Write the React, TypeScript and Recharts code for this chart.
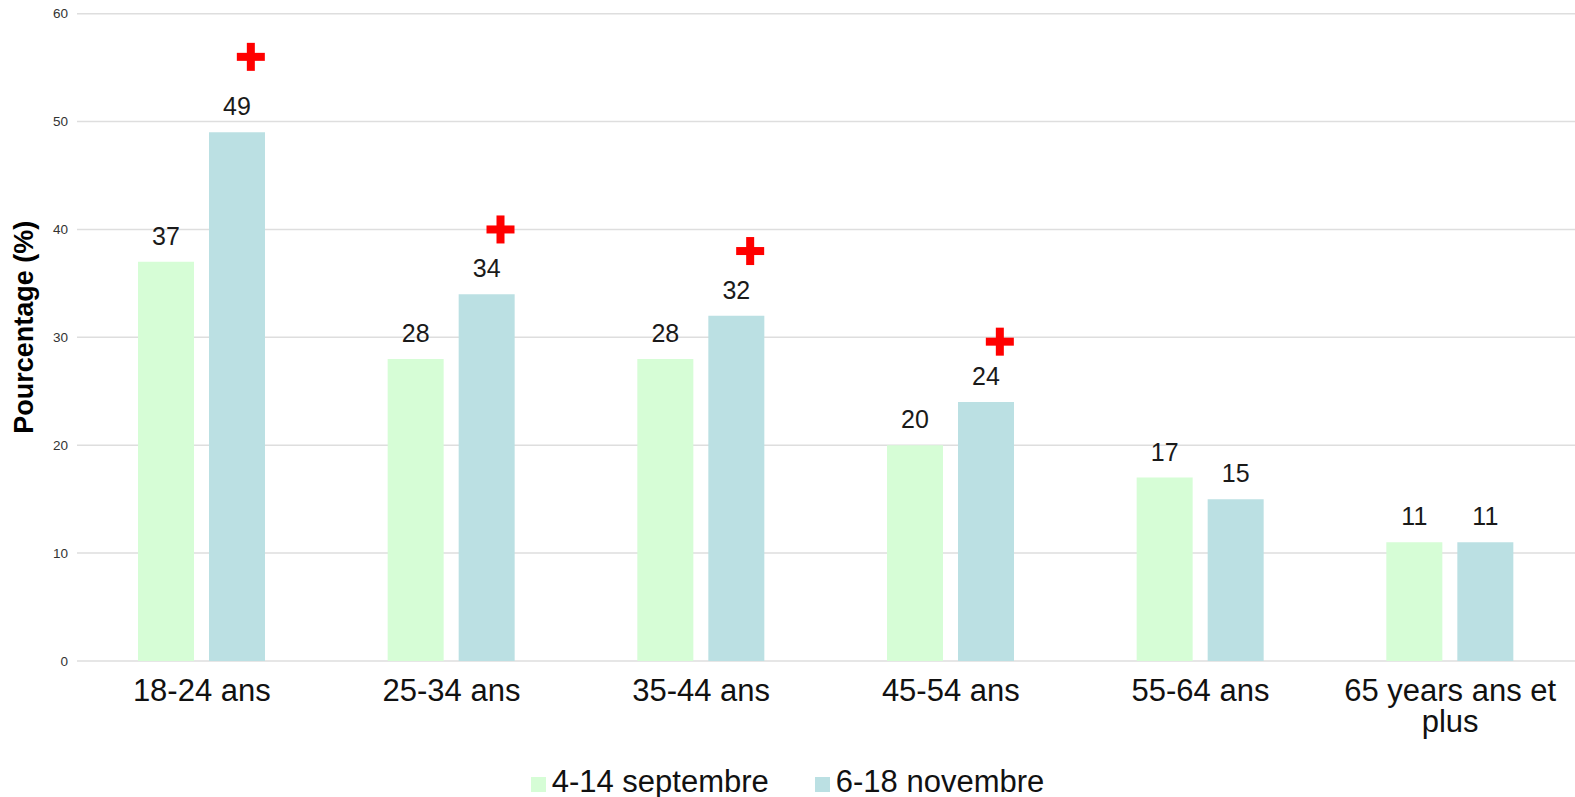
import {
  BarChart,
  Bar,
  XAxis,
  YAxis,
  CartesianGrid,
  Legend,
  LabelList,
  ReferenceDot,
} from "recharts";

const ageGroups = [
  "18-24 ans",
  "25-34 ans",
  "35-44 ans",
  "45-54 ans",
  "55-64 ans",
  "65 years ans et plus",
];
const seriesNames = ["4-14 septembre", "6-18 novembre"];
const septembre = [37, 28, 28, 20, 17, 11];
const novembre = [49, 34, 32, 24, 15, 11];
// red "+" marks for a significant rise, in axis units (null = no mark)
const hausseMarks = [56, 40, 38, 29.6, null, null];
const yTicks = [0, 10, 20, 30, 40, 50, 60];

const colors = ["#d6fdd6", "#bbe0e3"];
const FONT = '"Liberation Sans", Arial, Helvetica, sans-serif';

const chartData = ageGroups.map((group, i) => ({
  group,
  sept: septembre[i],
  nov: novembre[i],
}));

// split long category names into lines of ~16 chars
function wrapLabel(text: string, max: number) {
  const lines: string[] = [];
  let cur = "";
  text.split(" ").forEach((w) => {
    const next = cur ? cur + " " + w : w;
    if (next.length > max && cur) {
      lines.push(cur);
      cur = w;
    } else {
      cur = next;
    }
  });
  if (cur) lines.push(cur);
  return lines;
}

function AgeTick({ x, y, payload }: any) {
  const lines = wrapLabel(payload.value, 16);
  return (
    <text x={x} y={y} textAnchor="middle" fill="#111" fontSize={31}>
      {lines.map((line, i) => (
        <tspan key={i} x={x} dy={i === 0 ? 40 : 31}>
          {line}
        </tspan>
      ))}
    </text>
  );
}

// plus sign drawn just right of the november bar
function PlusMark({ cx, cy }: any) {
  if (cx == null || cy == null) return null;
  const px = cx + 49;
  return (
    <g>
      <rect x={px - 14} y={cy - 4} width={28} height={8} fill="#ff0000" />
      <rect x={px - 4} y={cy - 14} width={8} height={28} fill="#ff0000" />
    </g>
  );
}

function YTitle({ viewBox }: any) {
  const cx = 33;
  const cy = viewBox.y + viewBox.height / 2 - 10;
  return (
    <text
      x={cx}
      y={cy}
      transform={`rotate(-90, ${cx}, ${cy})`}
      textAnchor="middle"
      fontSize={27}
      fontWeight="bold"
      fill="#000"
    >
      Pourcentage (%)
    </text>
  );
}

function LegendRow({ payload }: any) {
  return (
    <div
      style={{
        display: "flex",
        justifyContent: "center",
        height: 40,
        lineHeight: "40px",
        paddingTop: 5,
        fontSize: 31,
        color: "#111",
      }}
    >
      {(payload || []).map((p: any, i: number) => (
        <span key={i} style={{ marginLeft: i === 0 ? 0 : 46, whiteSpace: "nowrap" }}>
          <span
            style={{
              display: "inline-block",
              width: 15,
              height: 15,
              marginRight: 6,
              background: p.color,
            }}
          />
          {p.value}
        </span>
      ))}
    </div>
  );
}

export default function App() {
  return (
    <div style={{ position: "absolute", left: 0, top: 0, fontFamily: FONT, background: "#fff" }}>
      <BarChart
        width={1575}
        height={797}
        data={chartData}
        margin={{ top: 13.7, right: 0, left: 0, bottom: 0 }}
        barGap={15}
        style={{ fontFamily: FONT }}
      >
        <CartesianGrid vertical={false} stroke="#dedede" strokeWidth={1.5} />
        <XAxis
          dataKey="group"
          interval={0}
          height={96}
          axisLine={false}
          tickLine={false}
          tickSize={0}
          tickMargin={0}
          tick={<AgeTick />}
        />
        <YAxis
          width={77}
          domain={[0, 60]}
          ticks={yTicks}
          axisLine={false}
          tickLine={false}
          tickSize={6}
          tickMargin={3}
          tick={{ fontSize: 13.5, fill: "#333" }}
          label={<YTitle />}
        />
        <Legend
          verticalAlign="bottom"
          align="center"
          wrapperStyle={{ height: 40 }}
          content={<LegendRow />}
        />
        <Bar dataKey="sept" name={seriesNames[0]} fill={colors[0]} barSize={56} isAnimationActive={false}>
          <LabelList dataKey="sept" position="top" offset={17} fill="#1a1a1a" fontSize={25} />
        </Bar>
        <Bar dataKey="nov" name={seriesNames[1]} fill={colors[1]} barSize={56} isAnimationActive={false}>
          <LabelList dataKey="nov" position="top" offset={17} fill="#1a1a1a" fontSize={25} />
        </Bar>
        {hausseMarks.map((v, i) =>
          v == null ? null : (
            <ReferenceDot key={i} x={ageGroups[i]} y={v} shape={<PlusMark />} />
          )
        )}
      </BarChart>
    </div>
  );
}
